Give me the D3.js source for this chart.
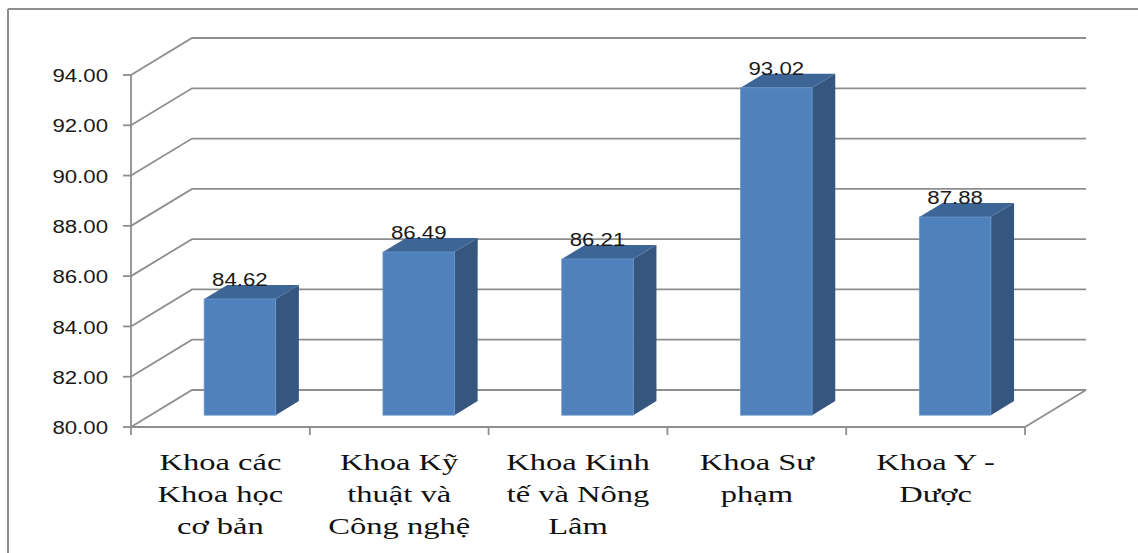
<!DOCTYPE html>
<html>
<head>
<meta charset="utf-8">
<script src="https://cdn.jsdelivr.net/npm/d3@7"></script>
<style>
  html, body { margin: 0; padding: 0; background: #fff; }
  svg { display: block; }
  .cat-label { font-family: "Liberation Serif", "DejaVu Serif", "Noto Serif", "Times New Roman", Times, serif; }
</style>
</head>
<body>
<svg id="chart" width="1138" height="553"></svg>
<script>
// Faculty results (percent)
const categories = [
  ["Khoa các", "Khoa học", "cơ bản"],
  ["Khoa Kỹ", "thuật và", "Công nghệ"],
  ["Khoa Kinh", "tế và Nông", "Lâm"],
  ["Khoa Sư", "phạm"],
  ["Khoa Y -", "Dược"]
];
const categoryKeys = ["cb", "ktcn", "ktnl", "sp", "yd"];
const values = [84.62, 86.49, 86.21, 93.02, 87.88];
const tickValues = [80, 82, 84, 86, 88, 90, 92, 94];

const svg = d3.select("#chart");
const textStretch = 1.27;   // wide glyphs used for the numeric labels

// plot box (front plane) and 3D depth vector of the back wall
const plot = { left: 131, right: 1025, top: 75, bottom: 427 };
const wall = { dx: 61, dy: -37 };
const barDepth = { front: 0.32, back: 0.70 };

const y = d3.scaleLinear().domain([80, 94]).range([plot.bottom, plot.top]);
const x = d3.scaleBand().domain(categoryKeys)
  .range([plot.left, plot.right]).paddingInner(0.6).paddingOuter(0.3);

const gridColor = "#8e8e8e";

// outer frame
const frame = svg.append("g").attr("stroke", gridColor).attr("stroke-width", 2).attr("fill", "none");
frame.append("line").attr("x1", 8).attr("y1", 9).attr("x2", 1138).attr("y2", 9);
frame.append("line").attr("x1", 8).attr("y1", 9).attr("x2", 8).attr("y2", 553);

// side wall + back wall gridlines
const grid = svg.append("g").attr("stroke", gridColor).attr("stroke-width", 1.8).attr("fill", "none");
grid.selectAll("polyline.grid").data(tickValues).join("polyline")
  .attr("class", "grid")
  .attr("points", t => {
    const yy = y(t);
    return [[plot.left, yy], [plot.left + wall.dx, yy + wall.dy], [plot.right + wall.dx, yy + wall.dy]]
      .map(p => p.join(",")).join(" ");
  });

// floor: front edge and right edge
grid.append("line").attr("x1", plot.left).attr("y1", y(80)).attr("x2", plot.right).attr("y2", y(80));
grid.append("line").attr("x1", plot.right).attr("y1", y(80))
  .attr("x2", plot.right + wall.dx).attr("y2", y(80) + wall.dy);

// value axis line and ticks
grid.append("line").attr("x1", plot.left).attr("y1", y(94)).attr("x2", plot.left).attr("y2", y(80));
grid.selectAll("line.ytick").data(tickValues).join("line")
  .attr("class", "ytick")
  .attr("x1", plot.left - 8).attr("x2", plot.left).attr("y1", d => y(d)).attr("y2", d => y(d));

// category tick marks along the floor's front edge
const step = x.step();
const boundaries = d3.range(categoryKeys.length + 1).map(i => plot.left + i * step);
grid.selectAll("line.xtick").data(boundaries).join("line")
  .attr("class", "xtick")
  .attr("x1", d => d).attr("x2", d => d).attr("y1", y(80)).attr("y2", y(80) + 8);

// helper: horizontally stretched text placed at (px, py)
function placeText(sel, px, py, sx) {
  sel.attr("x", 0).attr("y", 0)
    .attr("transform", (d, i) => `translate(${px(d, i)},${py(d, i)}) scale(${sx},1)`);
}

// y tick labels
svg.append("g").selectAll("text").data(tickValues).join("text")
  .attr("font-family", "'Liberation Sans', Arial, sans-serif")
  .attr("font-size", 17.5)
  .attr("fill", "#1a1a1a")
  .attr("text-anchor", "end")
  .attr("dominant-baseline", "central")
  .text(d => d.toFixed(2))
  .call(placeText, () => plot.left - 23, d => y(d) + 1, textStretch);

// 3D bars
const f0 = { dx: wall.dx * barDepth.front, dy: wall.dy * barDepth.front };
const f1 = { dx: wall.dx * barDepth.back, dy: wall.dy * barDepth.back };
const bw = x.bandwidth();
const bars = svg.append("g").selectAll("g.bar").data(values).join("g").attr("class", "bar");

bars.each(function (v, i) {
  const g = d3.select(this);
  const xl = x(categoryKeys[i]) + f0.dx;
  const xr = xl + bw;
  const yt = y(v) + f0.dy;
  const yb = y(80) + f0.dy;
  const ddx = f1.dx - f0.dx, ddy = f1.dy - f0.dy;
  // side face
  g.append("polygon")
    .attr("points", [[xr, yt], [xr + ddx, yt + ddy], [xr + ddx, yb + ddy], [xr, yb]].map(p => p.join(",")).join(" "))
    .attr("fill", "#35567f");
  // top face
  g.append("polygon")
    .attr("points", [[xl, yt], [xl + ddx, yt + ddy], [xr + ddx, yt + ddy], [xr, yt]].map(p => p.join(",")).join(" "))
    .attr("fill", "#3d6595");
  // front face
  g.append("rect")
    .attr("x", xl).attr("y", yt).attr("width", bw).attr("height", yb - yt)
    .attr("fill", "#4f81bd").attr("stroke", "#6b96cc").attr("stroke-width", 0.8);
});

// data labels above each bar
svg.append("g").selectAll("text").data(values).join("text")
  .attr("font-family", "'Liberation Sans', Arial, sans-serif")
  .attr("font-size", 17.5)
  .attr("fill", "#1a1a1a")
  .attr("text-anchor", "middle")
  .text(d => d.toFixed(2))
  .call(placeText,
    (d, i) => x(categoryKeys[i]) + f0.dx + bw / 2,
    d => y(d) + f1.dy + 1, textStretch);

// category labels (multi-line, serif)
const catG = svg.append("g")
  .attr("font-size", 24)
  .attr("fill", "#111");

// width of the line "Khoa các" sets the horizontal stretch of the serif labels
const probe = catG.append("text").attr("class", "cat-label").text(categories[0][0]);
const probeWidth = probe.node().getComputedTextLength();
probe.remove();
const serifStretch = 122 / probeWidth;

categories.forEach((lines, i) => {
  const cx = x(categoryKeys[i]) + bw / 2;
  catG.selectAll(null).data(lines).join("text")
    .attr("class", "cat-label")
    .attr("text-anchor", "middle")
    .text(d => d)
    .call(placeText, () => cx, (d, j) => 470 + j * 32, serifStretch);
});
</script>
</body>
</html>
